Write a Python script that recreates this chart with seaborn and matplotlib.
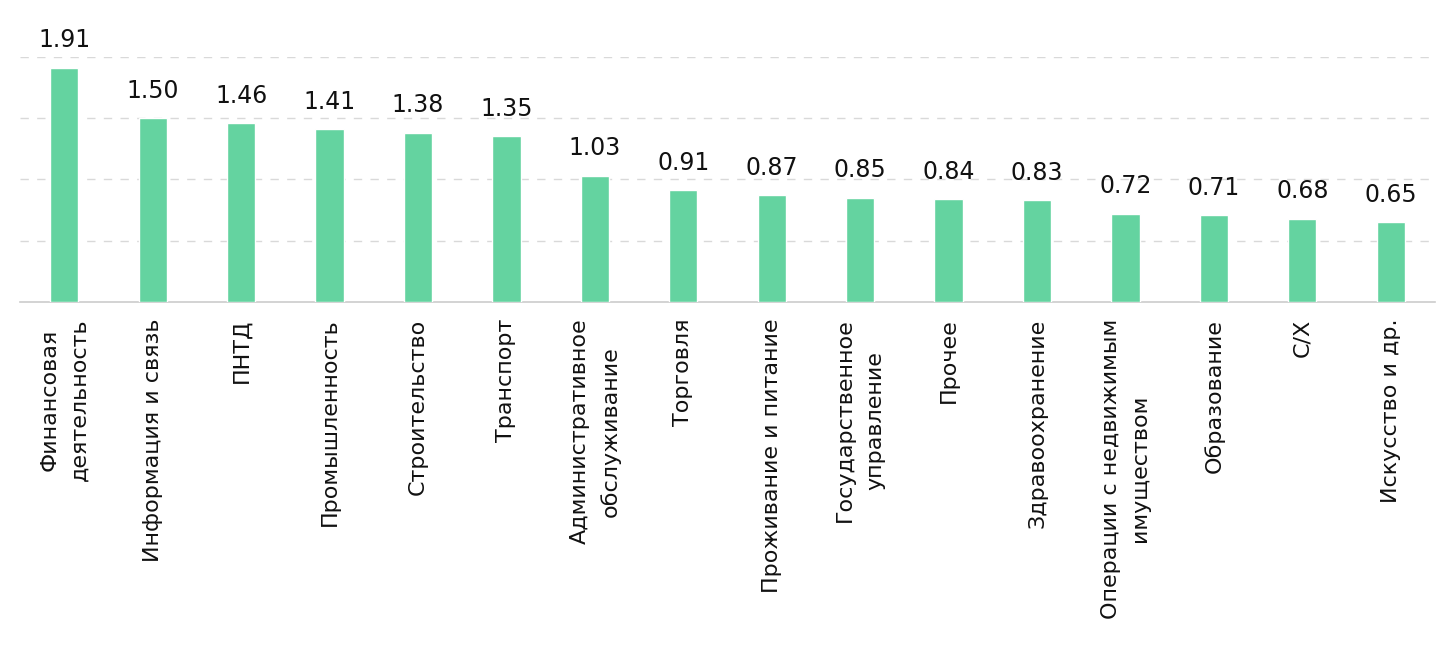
import matplotlib
matplotlib.use("Agg")
import matplotlib.pyplot as plt
import seaborn as sns
import pandas as pd

categories = [
    "Финансовая\nдеятельность", "Информация и связь", "ПНТД", "Промышленность",
    "Строительство", "Транспорт", "Административное\nобслуживание", "Торговля",
    "Проживание и питание", "Государственное\nуправление", "Прочее", "Здравоохранение",
    "Операции с недвижимым\nимуществом", "Образование", "С/Х", "Искусство и др.",
]
values = [1.91, 1.50, 1.46, 1.41, 1.38, 1.35, 1.03, 0.91, 0.87, 0.85, 0.84, 0.83,
          0.72, 0.71, 0.68, 0.65]
labels = ["1.91", "1.50", "1.46", "1.41", "1.38", "1.35", "1.03", "0.91", "0.87",
          "0.85", "0.84", "0.83", "0.72", "0.71", "0.68", "0.65"]

sns.set_theme(style="white")
plt.rcParams["font.family"] = ["DejaVu Sans"]

df = pd.DataFrame({"cat": categories, "val": values})

fig = plt.figure(figsize=(14.52, 6.64), dpi=100)
ax = fig.add_axes([20 / 1452, 1 - 302 / 664, 1415 / 1452, 245.4 / 664])

sns.barplot(data=df, x="cat", y="val", color="#64D3A0", width=0.32,
            saturation=1, ax=ax, zorder=3)

ax.set_xlim(-0.5, len(categories) - 0.5)
ax.set_ylim(0, 2.0)
ax.set_yticks([0.5, 1.0, 1.5, 2.0])
ax.set_yticklabels([])
ax.yaxis.grid(True, color="#d9d9d9", linestyle=(0, (6, 6)), linewidth=1)
ax.xaxis.grid(False)
ax.tick_params(axis="y", length=0)
ax.tick_params(axis="x", length=0, pad=12)
for s in ["left", "right", "top"]:
    ax.spines[s].set_visible(False)
ax.spines["bottom"].set_color("#cccccc")
ax.spines["bottom"].set_linewidth(1.2)
ax.set_xlabel("")
ax.set_ylabel("")

for lbl in ax.get_xticklabels():
    lbl.set_rotation(90)
    lbl.set_ha("center")
    lbl.set_va("top")
    lbl.set_multialignment("center")
    lbl.set_fontsize(16)
    lbl.set_linespacing(1.6)
    lbl.set_color("#111111")

for i, (v, t) in enumerate(zip(values, labels)):
    ax.annotate(t, xy=(i, v), xytext=(0, 11), textcoords="offset points",
                ha="center", va="bottom", fontsize=17, color="#111111",
                annotation_clip=False)

fig.savefig("out.png", dpi=100, facecolor="white")
